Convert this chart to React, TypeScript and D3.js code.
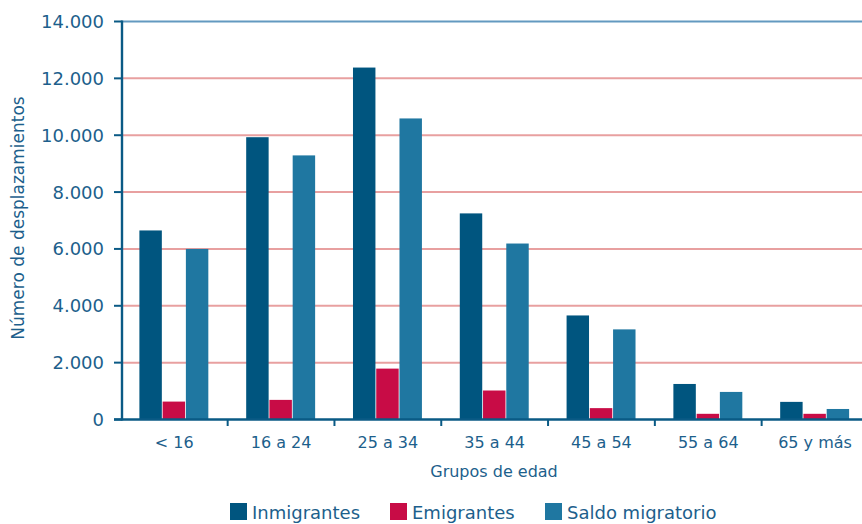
import React from "react";
import * as d3 from "d3";

const categories = ["< 16", "16 a 24", "25 a 34", "35 a 44", "45 a 54", "55 a 64", "65 y más"];
const seriesNames = ["Inmigrantes", "Emigrantes", "Saldo migratorio"];
const inmigrantes = [6650, 9930, 12380, 7250, 3660, 1250, 620];
const emigrantes = [630, 690, 1790, 1020, 400, 200, 200];
const saldo = [6000, 9290, 10590, 6190, 3170, 970, 370];
const yTicks = [0, 2000, 4000, 6000, 8000, 10000, 12000, 14000];
const seriesColors = ["#00557f", "#c80c46", "#1f77a1"];

const W = 862;
const H = 524;
const FONT = "'DejaVu Sans', sans-serif";
const TEXT = "#1d5f8c";
const AXIS = "#0a5a85";

export default function App() {
  const values = [inmigrantes, emigrantes, saldo];
  const x = d3
    .scaleBand<string>()
    .domain(categories)
    .range([122, 862])
    .paddingInner(0.347)
    .paddingOuter(0.138)
    .align(0.59);
  const sub = d3.scaleBand<number>().domain([0, 1, 2]).range([0, x.bandwidth()]);
  const y = d3.scaleLinear().domain([0, 14000]).range([419.5, 21.5]);
  const fmt = (v: number) => (v === 0 ? "0" : d3.format(",")(v).replace(/,/g, "."));
  const step = x.step();
  const gap = step * 0.347;

  return (
    <svg width={W} height={H} style={{ position: "absolute", left: 0, top: 0, background: "#fff" }}>
      {/* gridlines */}
      {yTicks.filter((t) => t > 0).map((t) => (
        <line
          key={"g" + t}
          x1={122}
          x2={862}
          y1={y(t)}
          y2={y(t)}
          stroke={t === 14000 ? "#6399c0" : "#e8a0a0"}
          strokeWidth={2}
        />
      ))}
      {/* bars */}
      {categories.map((c, i) => (
        <g key={c} transform={`translate(${x(c)},0)`}>
          {values.map((arr, s) => (
            <rect
              key={s}
              x={sub(s)!}
              y={y(arr[i])}
              width={sub.bandwidth() - 0.8}
              height={y(0) - y(arr[i])}
              fill={seriesColors[s]}
            />
          ))}
        </g>
      ))}
      {/* y axis */}
      <line x1={122} x2={122} y1={20.5} y2={420.5} stroke={AXIS} strokeWidth={2.4} />
      {yTicks.map((t) => (
        <g key={"t" + t}>
          <line x1={114} x2={122} y1={y(t)} y2={y(t)} stroke={AXIS} strokeWidth={2} />
          <text
            x={104}
            y={y(t) + 6.5}
            textAnchor="end"
            fontFamily={FONT}
            fontSize={18}
            fill={TEXT}
          >
            {fmt(t)}
          </text>
        </g>
      ))}
      {/* x axis */}
      <line x1={114} x2={862} y1={419.5} y2={419.5} stroke={AXIS} strokeWidth={2.4} />
      {categories.slice(1).map((c) => (
        <line
          key={"xt" + c}
          x1={x(c)! - gap / 2}
          x2={x(c)! - gap / 2}
          y1={419.5}
          y2={426}
          stroke={AXIS}
          strokeWidth={2}
        />
      ))}
      {categories.map((c) => (
        <text
          key={"xl" + c}
          x={x(c)! + x.bandwidth() / 2}
          y={448}
          textAnchor="middle"
          fontFamily={FONT}
          fontSize={16}
          fill={TEXT}
        >
          {c}
        </text>
      ))}
      <text x={494} y={477} textAnchor="middle" fontFamily={FONT} fontSize={16} fill={TEXT}>
        Grupos de edad
      </text>
      <text
        transform="translate(24,218) rotate(-90)"
        textAnchor="middle"
        fontFamily={FONT}
        fontSize={17}
        fill={TEXT}
      >
        Número de desplazamientos
      </text>
      {/* legend */}
      {seriesNames.map((n, i) => {
        const lx = [230, 390, 545][i];
        return (
          <g key={n}>
            <rect x={lx} y={503} width={17} height={17} fill={seriesColors[i]} />
            <text x={lx + 22} y={519} fontFamily={FONT} fontSize={18} fill={TEXT}>
              {n}
            </text>
          </g>
        );
      })}
    </svg>
  );
}
